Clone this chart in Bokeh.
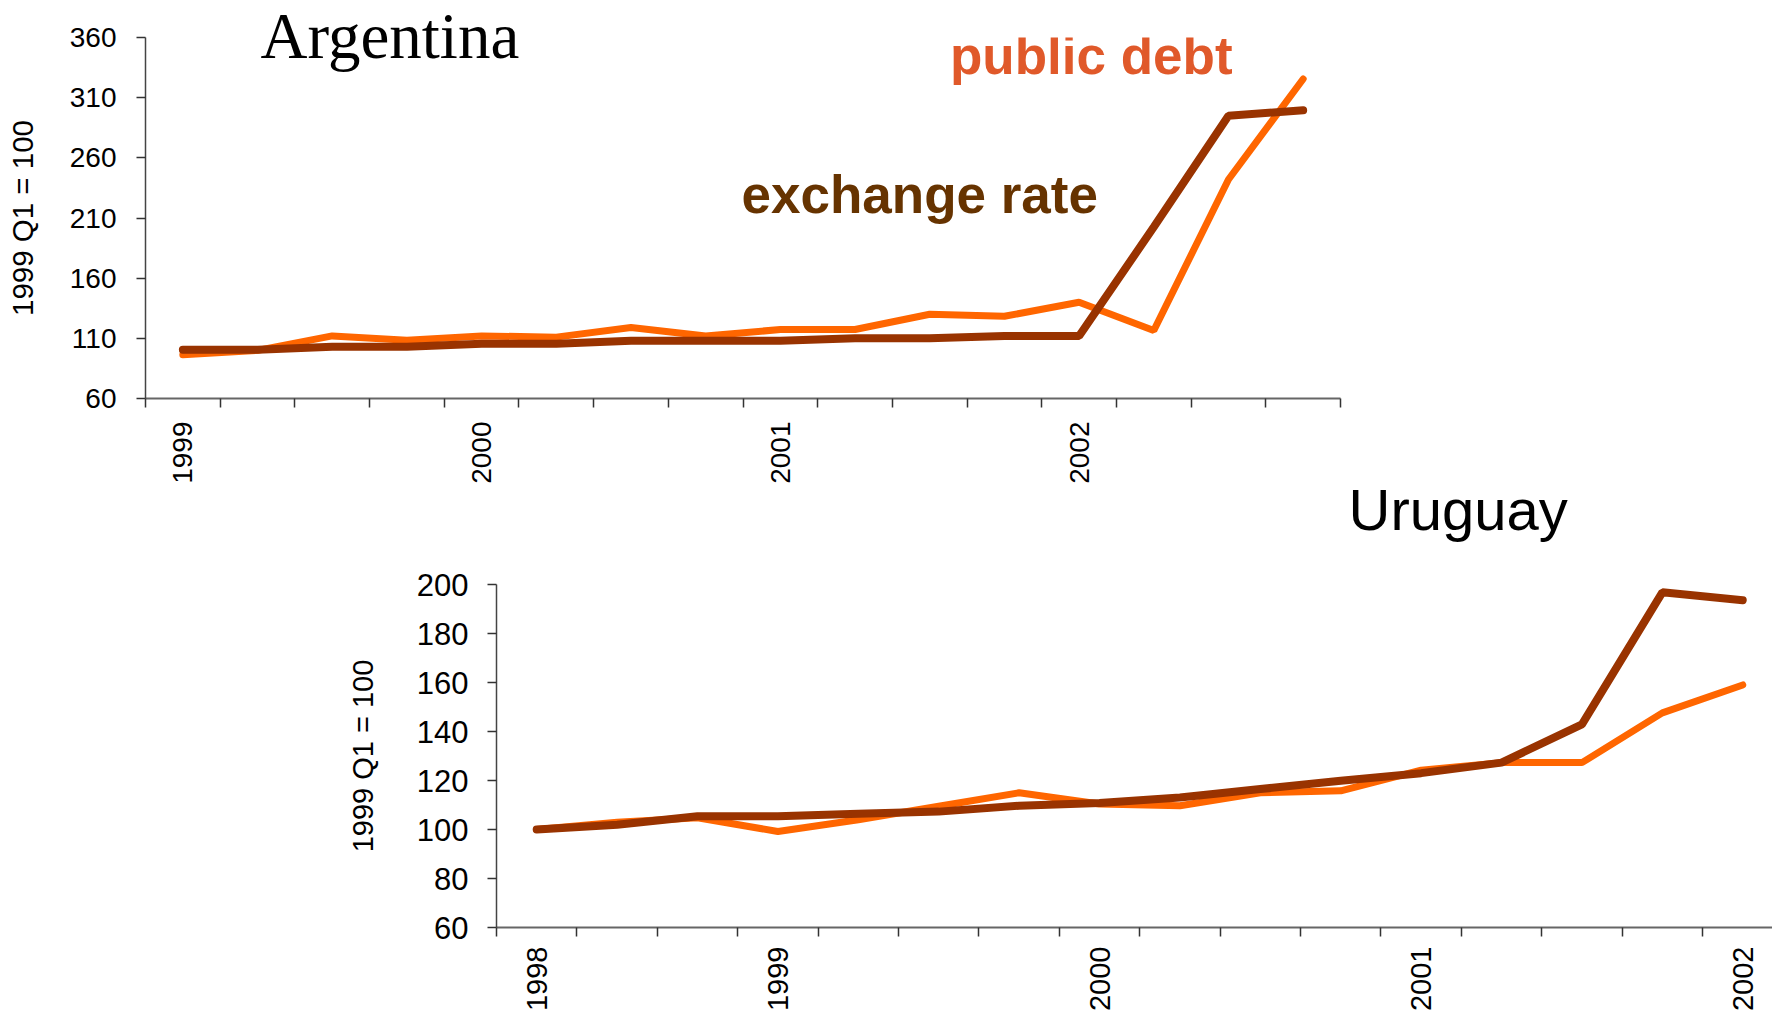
import math
from bokeh.plotting import figure
from bokeh.models import FixedTicker, Label, Range1d, Title
from bokeh.embed import file_html
from bokeh.resources import INLINE

# ---------------- data ----------------
arg_quarters = ["1999 Q1", "1999 Q2", "1999 Q3", "1999 Q4",
                "2000 Q1", "2000 Q2", "2000 Q3", "2000 Q4",
                "2001 Q1", "2001 Q2", "2001 Q3", "2001 Q4",
                "2002 Q1", "2002 Q2", "2002 Q3", "2002 Q4"]
arg_public_debt = [96.3, 100, 112, 108.5, 112, 111, 119, 112,
                   117.3, 117.3, 130, 128.3, 140, 116.5, 242, 325.5]
arg_exchange_rate = [100.5, 100.5, 103, 103, 105.5, 105.5, 108, 108,
                     108, 110, 110, 112, 112, 202.5, 295, 299.5]

uru_quarters = ["1998 Q2", "1998 Q3", "1998 Q4",
                "1999 Q1", "1999 Q2", "1999 Q3", "1999 Q4",
                "2000 Q1", "2000 Q2", "2000 Q3", "2000 Q4",
                "2001 Q1", "2001 Q2", "2001 Q3", "2001 Q4",
                "2002 Q1"]
uru_public_debt = [100, 103, 104.8, 99.2, 104, 109.5, 115, 110.4,
                   109.7, 115, 115.8, 124.2, 127.3, 127.3, 147.6, 159]
uru_exchange_rate = [100, 101.9, 105.4, 105.4, 106.4, 107.3, 109.7, 110.8,
                     113.1, 116.5, 119.9, 123, 127.3, 142.9, 196.8, 193.6]

y_label = "1999 Q1 = 100"

DEBT_COLOR = "#FF6600"
FX_COLOR = "#993300"
FONT = "Liberation Sans"


def make_panel(quarters, debt, fx, y_lo, y_hi, y_step, x_hi, width, height,
               b_left, b_right, b_top, b_bottom, fs, xfs, lfs, xstand, ystand, ylab_standoff):
    x = list(range(len(quarters)))
    p = figure(width=width, height=height,
               x_range=Range1d(-0.5, x_hi), y_range=Range1d(y_lo, y_hi),
               output_backend="svg", toolbar_location=None,
               min_border_left=b_left, min_border_right=b_right,
               min_border_top=b_top, min_border_bottom=b_bottom,
               background_fill_color="white", border_fill_color="white")
    p.outline_line_color = None
    p.xgrid.visible = False
    p.ygrid.visible = False

    p.line(x, debt, line_color=DEBT_COLOR, line_width=7, line_cap="round")
    p.line(x, fx, line_color=FX_COLOR, line_width=8, line_cap="round")

    year_idx = [i for i, q in enumerate(quarters) if i == 0 or q.endswith("Q1")]
    p.xaxis.ticker = FixedTicker(ticks=year_idx,
                                 minor_ticks=[i - 0.5 for i in range(len(quarters) + 1)])
    p.xaxis.major_label_overrides = {i: quarters[i][:4] for i in year_idx}
    p.xaxis.major_label_orientation = math.pi / 2
    p.xaxis.major_tick_line_color = None
    p.xaxis.major_tick_out = 9
    p.xaxis.major_tick_in = 0
    p.xaxis.minor_tick_out = 9
    p.xaxis.minor_tick_in = 0
    p.xaxis.minor_tick_line_color = "#333333"
    p.xaxis.minor_tick_line_width = 1.5
    p.xaxis.major_label_standoff = xstand
    p.xaxis.axis_line_color = "#666666"
    p.xaxis.axis_line_width = 2
    p.xaxis.major_label_text_font = FONT
    p.xaxis.major_label_text_font_size = f"{xfs}px"
    p.xaxis.major_label_text_color = "black"

    p.yaxis.ticker = FixedTicker(ticks=list(range(y_lo, y_hi + 1, y_step)), minor_ticks=[])
    p.yaxis.major_tick_out = 9
    p.yaxis.major_tick_in = 0
    p.yaxis.major_tick_line_color = "#333333"
    p.yaxis.major_tick_line_width = 1.5
    p.yaxis.minor_tick_line_color = None
    p.yaxis.axis_line_color = "#444444"
    p.yaxis.axis_line_width = 1.5
    p.yaxis.major_label_standoff = ystand
    p.yaxis.major_label_text_font = FONT
    p.yaxis.major_label_text_font_size = f"{fs}px"
    p.yaxis.major_label_text_color = "black"
    p.yaxis.axis_label = y_label
    p.yaxis.axis_label_text_font = FONT
    p.yaxis.axis_label_text_font_size = f"{lfs}px"
    p.yaxis.axis_label_text_font_style = "normal"
    p.yaxis.axis_label_text_color = "black"
    p.yaxis.axis_label_standoff = ylab_standoff
    return p


# ---------------- Argentina ----------------
p1 = make_panel(arg_quarters, arg_public_debt, arg_exchange_rate,
                60, 360, 50, 15.5, 1772, 554,
                145, 432, 37, 156, 28, 28, 29.5, 14, 20, 28)
p1.title = Title(text="Argentina", text_font="Liberation Serif",
                 text_font_size="65px", text_font_style="normal",
                 text_color="black", align="left", offset=115,
                 vertical_align="bottom", standoff=-68)
p1.add_layout(Label(x=10.27, y=344.8, text="public debt", text_font=FONT,
                    text_font_size="53px", text_font_style="bold",
                    text_color="#E0592A", text_align="left",
                    text_baseline="alphabetic"))
p1.add_layout(Label(x=7.48, y=229.3, text="exchange rate", text_font=FONT,
                    text_font_size="53px", text_font_style="bold",
                    text_color="#663300", text_align="left",
                    text_baseline="alphabetic"))
# title of the lower panel, drawn under the upper panel's axis
p1.add_layout(Title(text="Uruguay", text_font=FONT, text_font_size="58px",
                    text_font_style="normal", text_color="black",
                    align="left", offset=1203, vertical_align="top",
                    standoff=-20), "below")

# ---------------- Uruguay ----------------
p2 = make_panel(uru_quarters, uru_public_debt, uru_exchange_rate,
                60, 200, 20, 15.37, 1772, 460,
                496, 0, 30, 85, 31, 29, 29, 10, 19, 35)

open("out.html", "w").write(file_html([p1, p2], INLINE))
